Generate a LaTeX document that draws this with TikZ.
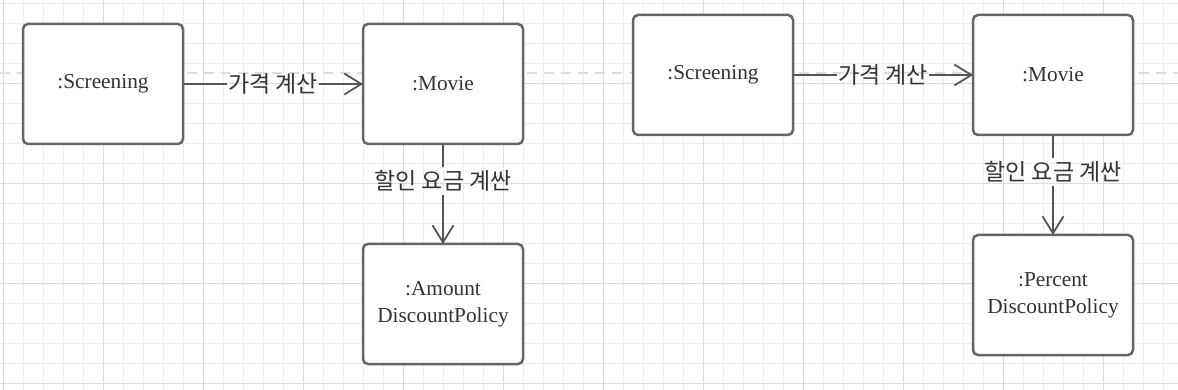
\documentclass[tikz,border=0pt]{standalone}
\usepackage{fontspec}
\setmainfont{Liberation Serif}
\newfontfamily\korfont{Noto Sans CJK KR}
\usepackage{tikz}
\usetikzlibrary{arrows.meta,positioning}

\definecolor{boxline}{HTML}{666666}
\definecolor{linkgray}{HTML}{555555}
\definecolor{textgray}{HTML}{333333}
\definecolor{gridminor}{HTML}{EEEEEE}
\definecolor{gridmajor}{HTML}{DCDCDC}
\definecolor{sepgray}{HTML}{DDDDDD}

\begin{document}
\begin{tikzpicture}[
    x=1pt, y=-1pt,
    node distance=100pt and 180pt,
    obj/.style={draw=boxline, fill=white, rectangle, rounded corners=5pt, minimum width=160pt, minimum height=120pt, outer sep=0pt, align=center, font=\fontsize{21.3}{27}\selectfont, text=textgray, line width=2.5pt},
    msg/.style={font=\korfont\fontsize{23}{27}\selectfont, text=textgray, inner xsep=1pt, inner ysep=3pt},
    link/.style={draw=linkgray, line width=1.8pt},
    arr/.style={link, -{Straight Barb[length=17pt, width=21pt]}},
    sepline/.style={draw=sepgray, line width=2pt, dash pattern=on 10pt off 7pt},
  ]
    \useasboundingbox (0,0) rectangle (1178,390);

    % Background grid
    \foreach \gx in {0,...,58}
        \draw [gridminor, line width=0.8pt] ({3.3+20*\gx},0) -- ({3.3+20*\gx},390);
    \foreach \gy in {0,...,19}
        \draw [gridminor, line width=0.8pt] (0,{3.3+20*\gy}) -- (1178,{3.3+20*\gy});
    \foreach \gx in {0,...,11}
        \draw [gridmajor, line width=0.8pt] ({3.3+100*\gx},0) -- ({3.3+100*\gx},390);
    \foreach \gy in {0,...,3}
        \draw [gridmajor, line width=0.8pt] (0,{83.3+100*\gy}) -- (1178,{83.3+100*\gy});

    % Dashed separator
    \draw [sepline] (0,73.5) -- (1178,73.5);

    % Left: amount discount
    \node [obj] (scr1) at (103,84) {:Screening};
    \node [obj, right=of scr1] (mov1) {:Movie};
    \node [obj, below=of mov1] (amt1) {:Amount\\DiscountPolicy};

    % Right: percent discount
    \node [obj] (scr2) at (713,75) {:Screening};
    \node [obj, right=of scr2] (mov2) {:Movie};
    \node [obj, below=of mov2] (pct2) {:Percent\\DiscountPolicy};

    % Message labels
    \path (scr1) -- (mov1) node [msg, midway, inner ysep=0pt] (price1) {가격 계산};
    \path (mov1) -- (amt1) node [msg, pos=0.37] (disc1) {할인 요금 계싼};
    \path (scr2) -- (mov2) node [msg, midway, inner ysep=0pt] (price2) {가격 계산};
    \path (mov2) -- (pct2) node [msg, pos=0.37] (disc2) {할인 요금 계싼};

    % Messages
    \draw [link] (scr1) -- (price1);
    \draw [arr] (price1) -- (mov1);
    \draw [link] (mov1) -- (disc1);
    \draw [arr] (disc1) -- (amt1);
    \draw [link] (scr2) -- (price2);
    \draw [arr] (price2) -- (mov2);
    \draw [link] (mov2) -- (disc2);
    \draw [arr] (disc2) -- (pct2);
\end{tikzpicture}
\end{document}
